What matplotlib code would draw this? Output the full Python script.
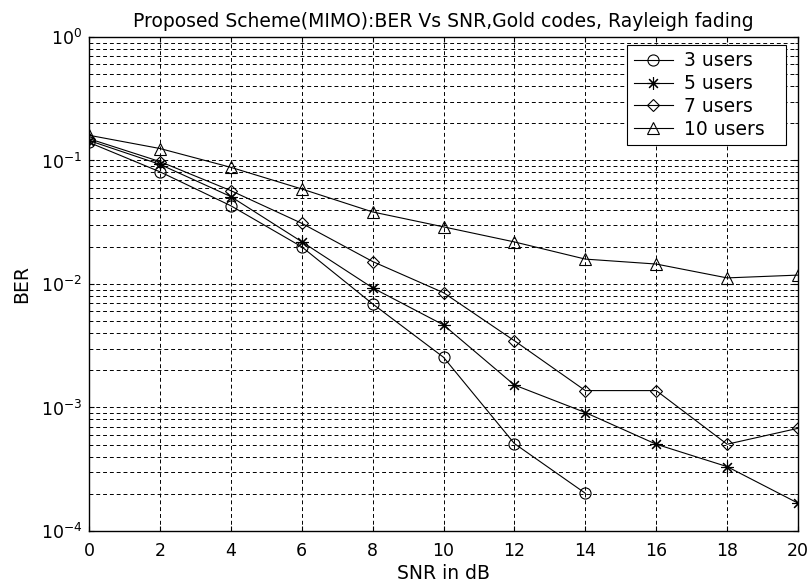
import matplotlib
matplotlib.use("Agg")
import matplotlib.pyplot as plt

# BER vs SNR
snr = [0, 2, 4, 6, 8, 10, 12, 14, 16, 18, 20]
snr_3 = [0, 2, 4, 6, 8, 10, 12, 14]
ber_3 = [0.14, 0.081, 0.043, 0.020, 0.0069, 0.00255, 0.00051, 0.000202]
ber_5 = [0.145, 0.093, 0.051, 0.022, 0.0093, 0.00466, 0.00152, 0.00091, 0.000504, 0.000332, 0.000168]
ber_7 = [0.15, 0.098, 0.057, 0.031, 0.0152, 0.0085, 0.00347, 0.00137, 0.00137, 0.000504, 0.000678]
ber_10 = [0.16, 0.125, 0.088, 0.0588, 0.0383, 0.029, 0.0219, 0.0159, 0.0145, 0.0112, 0.0118]

labels = ["3 users", "5 users", "7 users", "10 users"]
xticks = [0, 2, 4, 6, 8, 10, 12, 14, 16, 18, 20]

plt.rcParams["font.family"] = ["DejaVu Sans"]
plt.rcParams["font.size"] = 12.5

fig = plt.figure(figsize=(8.1, 5.86), dpi=100)
ax = fig.add_axes([0.1099, 0.0939, 0.8753, 0.8430])

style = dict(color="black", linewidth=0.8, markerfacecolor="none",
             markeredgecolor="black", markeredgewidth=0.8)
ax.semilogy(snr_3, ber_3, marker="o", markersize=8, label=labels[0], **style)
ax.semilogy(snr, ber_5, marker=(8, 2, 0), markersize=9, label=labels[1], **style)
ax.semilogy(snr, ber_7, marker="D", markersize=6.5, label=labels[2], **style)
ax.semilogy(snr, ber_10, marker="^", markersize=9, label=labels[3], **style)

ax.set_xlim(0, 20)
ax.set_ylim(1e-4, 1)
ax.set_xticks(xticks)
ax.grid(True, which="major", linestyle=(0, (4, 3)), color="black", linewidth=0.7)
ax.grid(True, which="minor", axis="y", linestyle=(0, (4, 3)), color="black", linewidth=0.7)
ax.tick_params(which="both", direction="in", top=True, right=True)
ax.tick_params(axis="x", pad=8)
ax.tick_params(axis="y", pad=5)
for s in ax.spines.values():
    s.set_linewidth(1.0)

ax.set_title("Proposed Scheme(MIMO):BER Vs SNR,Gold codes, Rayleigh fading",
             fontsize=13.5, pad=7.5)
ax.set_xlabel("SNR in dB", fontsize=13.5, labelpad=3)
ax.set_ylabel("BER", fontsize=13.5, labelpad=7)

leg = ax.legend(loc="upper right", bbox_to_anchor=(0.7588, 0.70, 0.2243, 0.284),
                mode="expand", borderaxespad=0, fancybox=False, framealpha=1,
                edgecolor="black", fontsize=13.5, handlelength=2.1, borderpad=0.35,
                labelspacing=0.2, handletextpad=0.6)
leg.get_frame().set_linewidth(0.8)

fig.savefig("out.png", dpi=100)
